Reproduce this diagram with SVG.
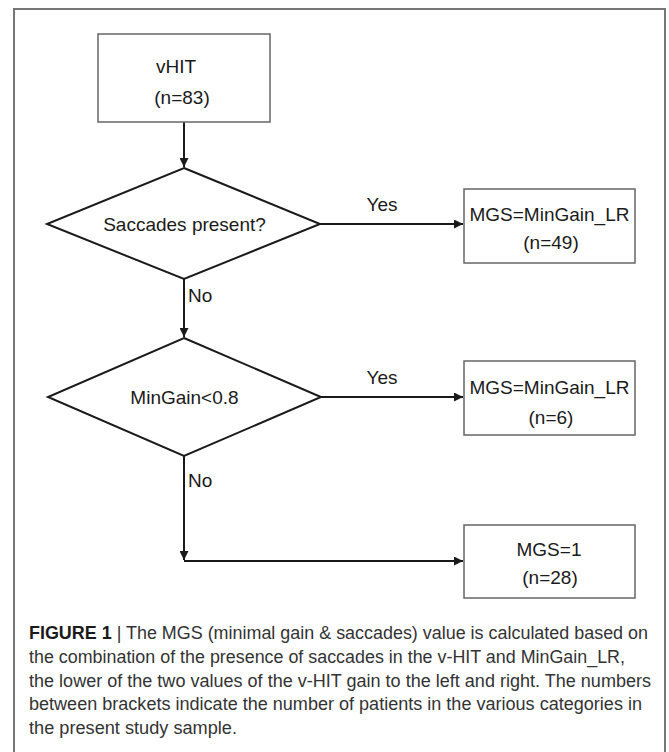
<svg xmlns="http://www.w3.org/2000/svg" width="669" height="752" viewBox="0 0 669 752">
<defs>
<style>
.box{fill:#fff;stroke:#666;stroke-width:1.5}
.dia{fill:#fff;stroke:#1a1a1a;stroke-width:2}
.lbl{font-family:"Liberation Sans",Arial,sans-serif;font-size:19px;fill:#1a1a1a}
.c{text-anchor:middle}
.edge{fill:none;stroke:#1a1a1a;stroke-width:2}
.cap{font-family:"Liberation Sans",Arial,sans-serif;font-size:17.5px;fill:#333}
</style>
<marker id="ah" viewBox="0 0 10 10" refX="10" refY="5" markerWidth="4.5" markerHeight="4.5" orient="auto" markerUnits="strokeWidth">
<path d="M0,0 L10,5 L0,10 Z" fill="#1a1a1a"/>
</marker>
</defs>
<rect width="669" height="752" fill="#fff"/>
<path d="M14,760 V9 H665 V760" fill="none" stroke="#777" stroke-width="2"/>

<g id="connectors">
<line class="edge" x1="184" y1="122" x2="184" y2="167" marker-end="url(#ah)"/>
<line class="edge" x1="320" y1="224" x2="463" y2="224" marker-end="url(#ah)"/>
<line class="edge" x1="184" y1="279" x2="184" y2="337" marker-end="url(#ah)"/>
<line class="edge" x1="321" y1="397" x2="463" y2="397" marker-end="url(#ah)"/>
<line class="edge" x1="184" y1="456" x2="184" y2="560" marker-end="url(#ah)"/>
<line class="edge" x1="184" y1="561" x2="463" y2="561" marker-end="url(#ah)"/>
<text class="lbl c" x="382" y="211">Yes</text>
<text class="lbl" x="188" y="302">No</text>
<text class="lbl c" x="382" y="384">Yes</text>
<text class="lbl" x="188" y="487">No</text>
</g>

<g id="vhit">
<rect class="box" x="98" y="34" width="172" height="88"/>
<text class="lbl c" x="176" y="73">vHIT</text>
<text class="lbl c" x="182" y="104">(n=83)</text>
</g>

<g id="saccades">
<polygon class="dia" points="184,168 320,224 184,279 47,224"/>
<text class="lbl c" x="184.5" y="231">Saccades present?</text>
</g>

<g id="mgs1">
<rect class="box" x="464" y="189" width="171" height="74"/>
<text class="lbl c" x="549.5" y="221">MGS=MinGain_LR</text>
<text class="lbl c" x="551" y="249">(n=49)</text>
</g>

<g id="mingain">
<polygon class="dia" points="184,338 321,397 184,456 48,397"/>
<text class="lbl c" x="184.5" y="404">MinGain&lt;0.8</text>
</g>

<g id="mgs2">
<rect class="box" x="464" y="361" width="171" height="74"/>
<text class="lbl c" x="549.5" y="394">MGS=MinGain_LR</text>
<text class="lbl c" x="551" y="424">(n=6)</text>
</g>

<g id="mgs3">
<rect class="box" x="464" y="525" width="171" height="73"/>
<text class="lbl c" x="549" y="556">MGS=1</text>
<text class="lbl c" x="550" y="584">(n=28)</text>
</g>

<g id="caption">
<text class="cap" x="29" y="639" textLength="619" lengthAdjust="spacingAndGlyphs"><tspan font-weight="bold" fill="#1a1a1a">FIGURE 1</tspan> | The MGS (minimal gain &amp; saccades) value is calculated based on</text>
<text class="cap" x="29" y="663" textLength="596" lengthAdjust="spacingAndGlyphs">the combination of the presence of saccades in the v-HIT and MinGain_LR,</text>
<text class="cap" x="29" y="687" textLength="622" lengthAdjust="spacingAndGlyphs">the lower of the two values of the v-HIT gain to the left and right. The numbers</text>
<text class="cap" x="29" y="710" textLength="613" lengthAdjust="spacingAndGlyphs">between brackets indicate the number of patients in the various categories in</text>
<text class="cap" x="29" y="734" textLength="208" lengthAdjust="spacingAndGlyphs">the present study sample.</text>
</g>
</svg>
